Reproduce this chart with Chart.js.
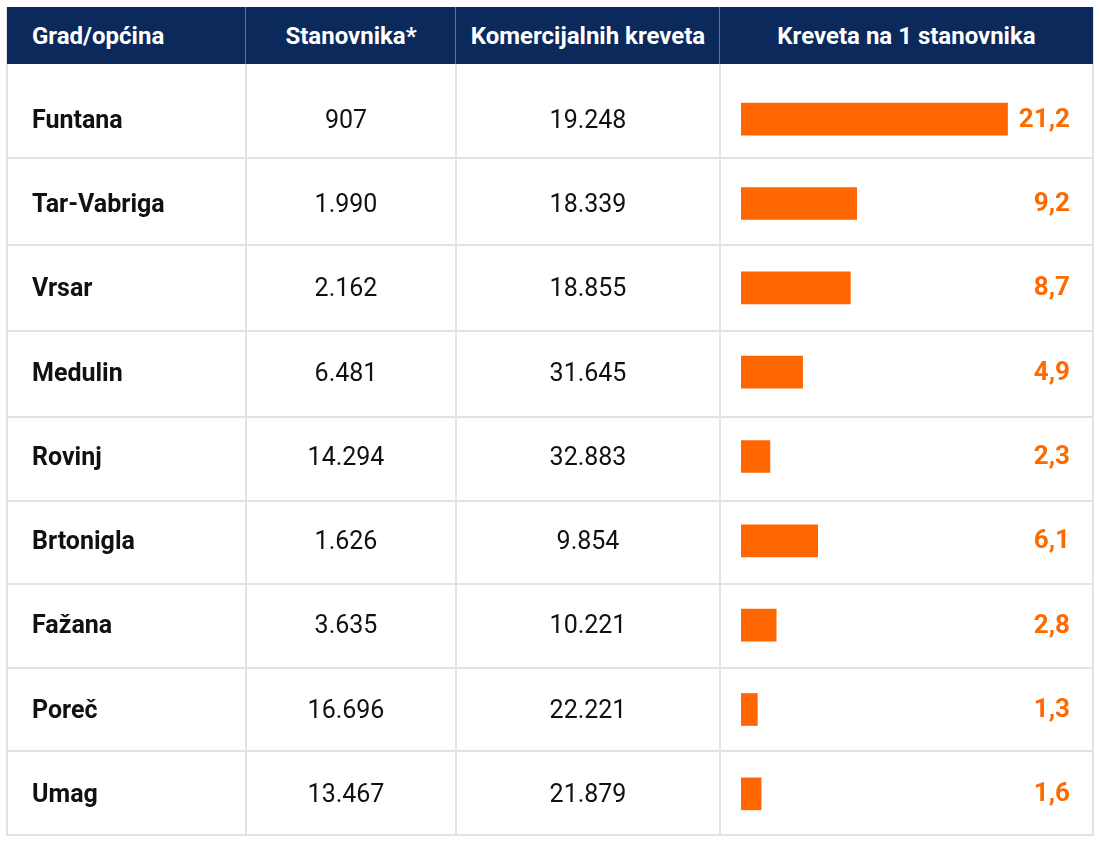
<!DOCTYPE html>
<html>
<head>
<meta charset="utf-8">
<script src="https://cdn.jsdelivr.net/npm/chart.js@4"></script>
<style>
  html, body { margin: 0; padding: 0; background: #fff; }
  #wrap { position: relative; width: 1100px; height: 843px; font-family: Roboto, "Noto Sans", sans-serif; color: #111; }
  .hline { position: absolute; left: 7px; width: 1086px; height: 2px; background: #e3e3e3; }
  .vline { position: absolute; width: 2px; background: #e3e3e3; }
  #head { position: absolute; left: 7px; top: 7px; width: 1086px; height: 57px; background: #0b2a5b; }
  .hcell { position: absolute; top: 7px; height: 57px; display: flex; align-items: center; color: #fff; font-weight: 700; font-size: 24px; }
  .cell { position: absolute; display: flex; align-items: center; font-size: 25px; }
  .name { font-weight: 700; }
  #chartBox { position: absolute; left: 720px; top: 77px; width: 373px; height: 759px; }
</style>
</head>
<body>
<div id="wrap">
  <div id="head"></div>
  <div id="chartBox"><canvas id="bedsChart"></canvas></div>
</div>
<script>
// table data
const headers = ['Grad/općina', 'Stanovnika*', 'Komercijalnih kreveta', 'Kreveta na 1 stanovnika'];
const cities = ['Funtana', 'Tar-Vabriga', 'Vrsar', 'Medulin', 'Rovinj', 'Brtonigla', 'Fažana', 'Poreč', 'Umag'];
const population = ['907', '1.990', '2.162', '6.481', '14.294', '1.626', '3.635', '16.696', '13.467'];
const beds = ['19.248', '18.339', '18.855', '31.645', '32.883', '9.854', '10.221', '22.221', '21.879'];
const bedsPerResident = [21.2, 9.2, 8.7, 4.9, 2.3, 6.1, 2.8, 1.3, 1.6];

const wrap = document.getElementById('wrap');
const colEdges = [7, 246, 456, 720, 1093];
const rowLines = [158, 245, 331, 417, 501, 584, 668, 751, 835];
const rowTop = 77, rowStep = 84.3;

function add(cls, style, text) {
    const d = document.createElement('div');
    d.className = cls;
    Object.assign(d.style, style);
    if (text !== undefined) d.textContent = text;
    wrap.appendChild(d);
    return d;
}

// grid
rowLines.forEach(y => add('hline', { top: (y - 1) + 'px' }));
colEdges.forEach((x, i) => {
    const inHead = (i > 0 && i < colEdges.length - 1);
    add('vline', { left: (x - 1) + 'px', top: (inHead ? 7 : 7) + 'px', height: (835 - 7 + 1) + 'px', background: '#e3e3e3', zIndex: 0 });
    if (inHead) add('vline', { left: (x - 1) + 'px', top: '7px', height: '57px', background: '#5f7596', width: '1px', zIndex: 2 });
});
document.getElementById('head').style.zIndex = 1;

// header texts
headers.forEach((h, i) => {
    const st = { left: colEdges[i] + 'px', width: (colEdges[i + 1] - colEdges[i]) + 'px', zIndex: 3 };
    if (i === 0) { st.paddingLeft = '25px'; st.boxSizing = 'border-box'; }
    else st.justifyContent = 'center';
    add('hcell', st, h);
});

// body texts
cities.forEach((c, r) => {
    const top = (rowTop + r * rowStep) + 'px', h = rowStep + 'px';
    add('cell name', { left: '32px', top: top, height: h }, c);
    add('cell', { left: colEdges[1] + 'px', width: (colEdges[2] - colEdges[1] - 10) + 'px', top: top, height: h, justifyContent: 'center' }, population[r]);
    add('cell', { left: colEdges[2] + 'px', width: (colEdges[3] - colEdges[2]) + 'px', top: top, height: h, justifyContent: 'center' }, beds[r]);
});

const valueLabels = {
    id: 'valueLabels',
    afterDatasetsDraw(chart) {
        const ctx = chart.ctx;
        const meta = chart.getDatasetMeta(0);
        ctx.save();
        ctx.font = 'bold 26px Roboto';
        ctx.fillStyle = '#ff6a00';
        ctx.textAlign = 'right';
        ctx.textBaseline = 'middle';
        meta.data.forEach((bar, i) => {
            ctx.fillText(bedsPerResident[i].toFixed(1).replace('.', ','), chart.width - 23, bar.y + 1);
        });
        ctx.restore();
    }
};

new Chart(document.getElementById('bedsChart'), {
    type: 'bar',
    data: {
        labels: cities,
        datasets: [{
            data: bedsPerResident,
            backgroundColor: '#ff6600',
            borderWidth: 0,
            barThickness: 32
        }]
    },
    options: {
        indexAxis: 'y',
        responsive: true,
        maintainAspectRatio: false,
        animation: false,
        layout: { padding: { left: 21, right: 0, top: 0, bottom: 0 } },
        scales: {
            x: { display: false, min: 0, max: 28 },
            y: { display: false }
        },
        plugins: { legend: { display: false }, tooltip: { enabled: false } }
    },
    plugins: [valueLabels]
});
</script>
</body>
</html>
